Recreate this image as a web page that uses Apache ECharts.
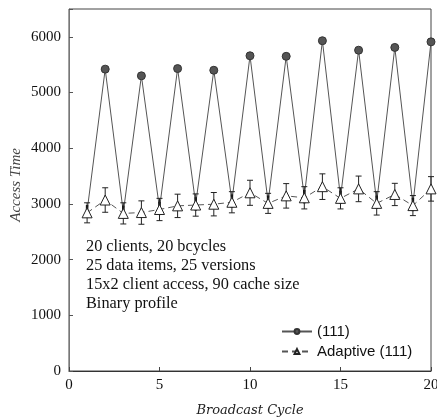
<!DOCTYPE html>
<html><head><meta charset="utf-8">
<script src="https://cdn.jsdelivr.net/npm/echarts@6/dist/echarts.min.js"></script>
<style>html,body{margin:0;padding:0;background:#fff}#c{width:437px;height:418px}</style>
</head><body><div id="c"></div>
<script>
const cycles = [1,2,3,4,5,6,7,8,9,10,11,12,13,14,15,16,17,18,19,20];
const base111 = [2870,5420,2850,5300,2920,5430,3000,5400,3050,5660,3030,5650,3130,5930,3120,5760,3030,5810,2990,5910];
const err111 = [110,0,120,0,120,0,120,0,120,0,120,0,120,0,120,0,120,0,120,0];
const adaptive = [2840,3070,2830,2845,2900,2965,2980,2995,3030,3200,3010,3145,3110,3310,3100,3270,3010,3170,2970,3270];
const errAdaptive = [180,220,190,210,200,210,200,210,190,225,180,220,200,230,190,230,210,200,180,220];
const yTicks = [0,1000,2000,3000,4000,5000,6000];
const xTicks = [0,5,10,15,20];
const notes = ['20 clients, 20 bcycles','25 data items, 25 versions','15x2 client access, 90 cache size','Binary profile'];

function errSeries(vals, errs, width, cap, z, color) {
  return {
    type: 'custom', z: z, silent: true,
    data: cycles.map((c,i)=>[c, vals[i]-errs[i], vals[i]+errs[i]]).filter((d,i)=>errs[i]>0),
    renderItem: function(params, api) {
      const lo = api.coord([api.value(0), api.value(1)]);
      const hi = api.coord([api.value(0), api.value(2)]);
      const st = {stroke:color, lineWidth: width};
      return {type:'group', children:[
        {type:'line', shape:{x1:lo[0],y1:lo[1],x2:hi[0],y2:hi[1]}, style:st},
        {type:'line', shape:{x1:lo[0]-cap,y1:lo[1],x2:lo[0]+cap,y2:lo[1]}, style:{stroke:color,lineWidth:1}},
        {type:'line', shape:{x1:hi[0]-cap,y1:hi[1],x2:hi[0]+cap,y2:hi[1]}, style:{stroke:color,lineWidth:1}}
      ]};
    }
  };
}

const chart = echarts.init(document.getElementById('c'), null, {renderer:'canvas'});
chart.setOption({
  animation: false,
  grid: {left:69, right:6, top:9, bottom:47, show:true, borderColor:'#444', borderWidth:1,
    containLabel:false, outerBoundsMode:'none'},
  xAxis: {
    type:'value', min:0, max:20, interval:5,
    axisLine:{show:true, lineStyle:{color:'#333'}},
    axisTick:{show:true, inside:true, length:4, lineStyle:{color:'#444'}},
    splitLine:{show:false},
    axisLabel:{color:'#111', fontFamily:'Liberation Serif', fontSize:15, margin:7, showMinLabel:true, showMaxLabel:true},
    name:'Broadcast Cycle', nameLocation:'middle', nameGap:33,
    nameTextStyle:{color:'#222', fontFamily:'DejaVu Serif', fontStyle:'italic', fontSize:13}
  },
  yAxis: {
    type:'value', min:0, max:6500, interval:1000,
    axisLine:{show:true, lineStyle:{color:'#777'}},
    axisTick:{show:true, inside:true, length:4, lineStyle:{color:'#555'}},
    splitLine:{show:false},
    axisLabel:{color:'#111', fontFamily:'Liberation Serif', fontSize:15, margin:8,
      formatter: v => yTicks.indexOf(v) >= 0 ? String(v) : ''}
  },
  legend: {
    data:['(111)','Adaptive (111)'], orient:'vertical', left:276, top:319, itemGap:5,
    itemWidth:30, itemHeight:6,
    textStyle:{color:'#111', fontFamily:'Liberation Sans', fontSize:15}
  },
  graphic: [
    {type:'text', left:9, top:148, rotation:Math.PI/2,
      style:{text:'Access Time', font:'italic 15px "Liberation Serif"', fill:'#444'}}
  ].concat(notes.map((t,i)=>({type:'text', left:86, top:239+i*18.8,
    style:{text:t, font:'16.3px "Liberation Serif"', fill:'#111'}}))),
  series: [
    {name:'(111)', type:'line', z:3,
      data: cycles.map((c,i)=>({value:[c, base111[i]], symbol: err111[i] > 0 ? 'none' : 'circle'})),
      symbol:'circle', symbolSize:8,
      itemStyle:{color:'#555', borderColor:'#333', borderWidth:1},
      lineStyle:{color:'#555', width:1}},
    errSeries(base111, err111, 2.5, 0, 4, '#111'),
    errSeries(adaptive, errAdaptive, 1, 3, 5, '#222'),
    {name:'Adaptive (111)', type:'line', z:6, data: cycles.map((c,i)=>[c, adaptive[i]]),
      symbol:'triangle', symbolSize:10,
      itemStyle:{color:'#fff', borderColor:'#222', borderWidth:1},
      lineStyle:{color:'#555', width:1, type:[6,4]}}
  ]
});
</script></body></html>
